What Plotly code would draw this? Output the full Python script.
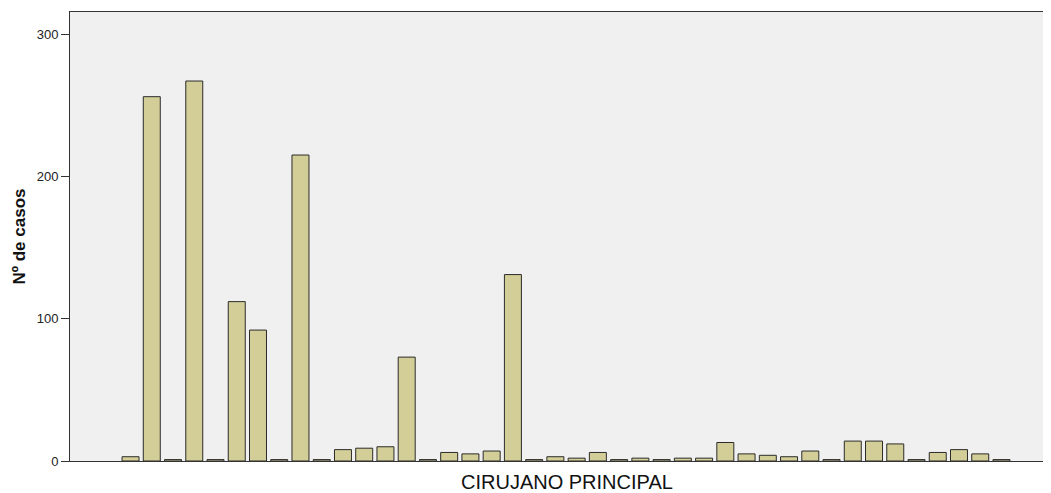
import plotly.graph_objects as go

cirujanos = [f"Cirujano {i}" for i in range(1, 43)]
casos = [3, 256, 1, 267, 1, 112, 92, 1, 215, 1,
         8, 9, 10, 73, 1, 6, 5, 7, 131, 1,
         3, 2, 6, 1, 2, 1, 2, 2, 13, 5,
         4, 3, 7, 1, 14, 14, 12, 1, 6, 8,
         5, 1]
y_ticks = [0, 100, 200, 300]
x_title = "CIRUJANO PRINCIPAL"
y_title = "Nº de casos"

fig = go.Figure(go.Bar(
    x=cirujanos, y=casos,
    marker=dict(color="#D3CE97", line=dict(color="#2b2b2b", width=1)),
    width=0.8,
))

fig.update_layout(
    width=1043, height=485,
    margin=dict(l=62, r=3, t=4, b=32),
    paper_bgcolor="white", plot_bgcolor="#F0F0F0",
    font=dict(family="Liberation Sans, Arial, sans-serif", color="#222"),
    showlegend=False,
    bargap=0.2,
    annotations=[
        dict(text=x_title, xref="paper", yref="paper", x=0.5077, y=0,
             xanchor="center", yanchor="middle", yshift=-21, showarrow=False,
             font=dict(size=20, color="#111")),
        dict(text=f"<b>{y_title}</b>", xref="paper", yref="paper", x=0, y=0.5,
             xanchor="center", yanchor="middle", xshift=-51, textangle=-90,
             showarrow=False, font=dict(size=17, color="#111")),
    ],
)
fig.update_xaxes(
    type="category", range=[-2.85, 43.19], showticklabels=False, ticks="",
    showline=True, mirror=True, linecolor="#333", linewidth=1, showgrid=False,
    automargin=False,
)
fig.update_yaxes(
    range=[0, 315.5], tickvals=y_ticks, ticks="outside", ticklen=8, tickcolor="#333",
    tickfont=dict(size=13, color="#222"),
    showline=True, mirror=True, linecolor="#333", linewidth=1, showgrid=False, zeroline=False,
    automargin=False,
)

fig.write_html("out.html")
